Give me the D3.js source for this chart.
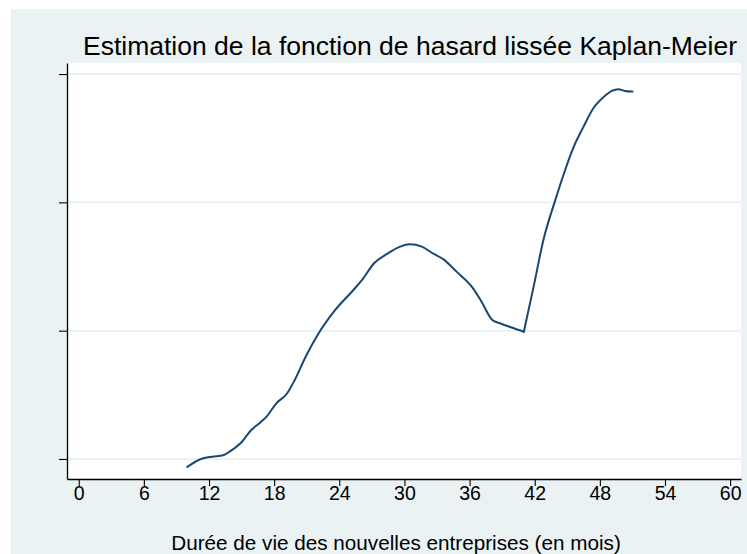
<!DOCTYPE html>
<html>
<head>
<meta charset="utf-8">
<script src="https://cdn.jsdelivr.net/npm/d3@7"></script>
<style>
  body { margin: 0; background: #fff; }
  text { font-family: "Liberation Sans", Arial, sans-serif; }
</style>
</head>
<body>
<div id="chart"></div>
<script>
// smoothed hazard estimate
const months = [10.0, 11.2, 12.3, 13.3, 13.9, 14.9, 15.9, 16.7, 17.3, 18.2, 19.2, 19.9,
  20.9, 22.1, 23.5, 25.3, 26.1, 27.2, 28.4, 29.6, 30.5, 31.6, 32.7, 33.6, 34.8,
  36.2, 37.1, 38.1, 38.8, 39.8, 41.0, 41.9, 42.8, 43.9, 44.7, 45.6, 46.5, 47.4,
  48.4, 49.1, 49.7, 50.3, 51.0];
const hazard = [0.00938, 0.00998, 0.01018, 0.01029, 0.01057, 0.01122, 0.01226, 0.01283,
  0.01330, 0.01434, 0.01512, 0.01616, 0.01797, 0.01980, 0.02148, 0.02317, 0.02395,
  0.02525, 0.02598, 0.02655, 0.02673, 0.02655, 0.02598, 0.02556, 0.02460, 0.02343,
  0.02226, 0.02083, 0.02058, 0.02027, 0.01992, 0.02343, 0.02707, 0.03019, 0.03227,
  0.03434, 0.03590, 0.03733, 0.03824, 0.03868, 0.03882, 0.03868, 0.03863];
const xTicks = [0, 6, 12, 18, 24, 30, 36, 42, 48, 54, 60];
const yTicks = [0.01, 0.02, 0.03, 0.04];

const title = "Estimation de la fonction de hasard lissée Kaplan-Meier";
const xTitle = "Durée de vie des nouvelles entreprises (en mois)";

const W = 747, H = 554;
const plot = { left: 67, right: 741, top: 63, bottom: 479 };

const svg = d3.select("#chart").append("svg")
  .attr("width", W)
  .attr("height", H);

// graph region
svg.append("rect")
  .attr("x", 11).attr("y", 9)
  .attr("width", W - 11).attr("height", H - 9)
  .attr("fill", "#eaf2f3");

// plot region
svg.append("rect")
  .attr("x", plot.left).attr("y", plot.top)
  .attr("width", plot.right - plot.left)
  .attr("height", plot.bottom - plot.top)
  .attr("fill", "#ffffff");

const x = d3.scaleLinear().domain([-1.08, 61]).range([plot.left, plot.right]);
const y = d3.scaleLinear().domain([0.00844, 0.04086]).range([plot.bottom, plot.top]);

// horizontal grid
svg.append("g")
  .selectAll("line")
  .data(yTicks)
  .join("line")
  .attr("x1", plot.left).attr("x2", plot.right)
  .attr("y1", d => y(d)).attr("y2", d => y(d))
  .attr("stroke", "#e6eef0")
  .attr("stroke-width", 1.5);

// x axis
const xAxis = svg.append("g")
  .attr("transform", `translate(0,${plot.bottom})`)
  .call(d3.axisBottom(x).tickValues(xTicks).tickSize(7).tickSizeOuter(0).tickPadding(0));
xAxis.select(".domain").attr("stroke", "#000").attr("stroke-width", 1.3);
xAxis.selectAll(".tick line").attr("stroke", "#000").attr("stroke-width", 1.1);
xAxis.selectAll(".tick text")
  .attr("font-family", "Liberation Sans, Arial, sans-serif")
  .attr("font-size", 19.5)
  .attr("fill", "#000");

// y axis, no labels
const yAxis = svg.append("g")
  .attr("transform", `translate(${plot.left},0)`)
  .call(d3.axisLeft(y).tickValues(yTicks).tickSize(8).tickSizeOuter(0).tickFormat(""));
yAxis.select(".domain").attr("stroke", "#000").attr("stroke-width", 1.3);
yAxis.selectAll(".tick line").attr("stroke", "#000").attr("stroke-width", 1.1);

// curve: smooth on both sides of the sharp minimum around month 41
const pts = months.map((m, i) => [m, hazard[i]]);
const vIdx = months.indexOf(41.0);
const line = d3.line().x(d => x(d[0])).y(d => y(d[1])).curve(d3.curveMonotoneX);
svg.append("g")
  .selectAll("path")
  .data([pts.slice(0, vIdx + 1), pts.slice(vIdx)])
  .join("path")
  .attr("fill", "none")
  .attr("stroke", "#1a476f")
  .attr("stroke-width", 2)
  .attr("stroke-linejoin", "round")
  .attr("stroke-linecap", "round")
  .attr("d", line);

// titles
svg.append("text")
  .attr("x", 410).attr("y", 55)
  .attr("text-anchor", "middle")
  .attr("font-size", 26.5)
  .attr("fill", "#000")
  .text(title);

svg.append("text")
  .attr("x", 396).attr("y", 550)
  .attr("text-anchor", "middle")
  .attr("font-size", 20.7)
  .attr("fill", "#000")
  .text(xTitle);
</script>
</body>
</html>
